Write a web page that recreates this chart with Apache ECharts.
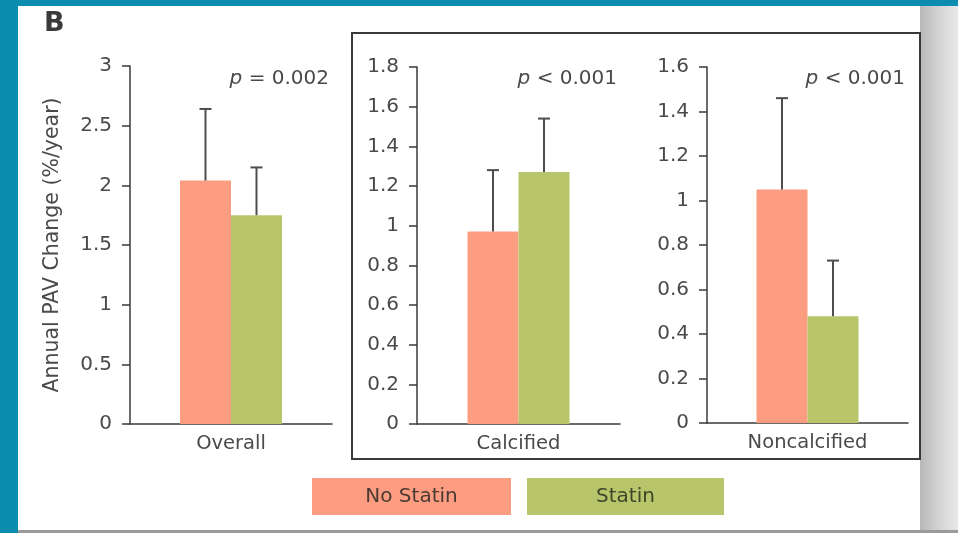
<!DOCTYPE html>
<html><head><meta charset="utf-8">
<script src="https://cdn.jsdelivr.net/npm/echarts@6/dist/echarts.min.js"></script>
<style>html,body{margin:0;padding:0;background:#0b8db0;}#c{width:958px;height:533px;}</style>
</head><body><div id="c"></div>
<script>
const categories = ['Overall', 'Calcified', 'Noncalcified'];
const groups = ['No Statin', 'Statin'];
const noStatin = [2.04, 0.97, 1.05];
const noStatinUpper = [2.64, 1.28, 1.46];
const statin = [1.75, 1.27, 0.48];
const statinUpper = [2.15, 1.54, 0.73];
const yMax = [3, 1.8, 1.6];
const yInterval = [0.5, 0.2, 0.2];
const pText = ['= 0.002', '< 0.001', '< 0.001'];
const yName = 'Annual PAV Change (%/year)';

const COLORS = ['#fc9d81', '#b8c56b'];
const BAR_W = 51;
const FONT = '"DejaVu Sans", "Noto Sans", sans-serif';
const TXT = '#4a4a4a';
const gridBoxes = [
  {left: 130, top: 66, width: 202, height: 358},
  {left: 417, top: 67, width: 203, height: 357},
  {left: 707, top: 67, width: 201, height: 356}
];

const chart = echarts.init(document.getElementById('c'));
const grid = [], xAxis = [], yAxis = [], series = [];
categories.forEach((cat, i) => {
  grid.push(Object.assign({containLabel: false}, gridBoxes[i]));
  xAxis.push({
    type: 'category', gridIndex: i, data: [cat],
    axisLine: {lineStyle: {color: '#3a3a3a', width: 1.5}},
    axisTick: {show: false},
    axisLabel: {fontSize: 19.5, color: TXT, fontFamily: FONT, margin: 10}
  });
  yAxis.push({
    type: 'value', gridIndex: i, min: 0, max: yMax[i], interval: yInterval[i],
    name: i === 0 ? yName : '', nameLocation: 'middle', nameGap: 67,
    nameTextStyle: {fontSize: 20.5, color: TXT, fontFamily: FONT},
    splitLine: {show: false},
    axisLine: {show: true, lineStyle: {color: '#3a3a3a', width: 1.5}},
    axisTick: {show: true, length: 8, lineStyle: {color: '#3a3a3a', width: 1.5}},
    axisLabel: {fontSize: 20, color: TXT, fontFamily: FONT, margin: 18}
  });
  const vals = [noStatin[i], statin[i]];
  const ups = [noStatinUpper[i], statinUpper[i]];
  groups.forEach((g, k) => {
    series.push({
      type: 'bar', name: g, xAxisIndex: i, yAxisIndex: i,
      data: [vals[k]], barWidth: BAR_W, barGap: '0%',
      itemStyle: {color: COLORS[k]}, z: 2, silent: true
    });
  });
  groups.forEach((g, k) => {
    series.push({
      type: 'custom', xAxisIndex: i, yAxisIndex: i, z: 3, silent: true,
      data: [[0, vals[k], ups[k]]],
      renderItem: (params, api) => {
        const base = api.coord([0, api.value(1)]);
        const top = api.coord([0, api.value(2)]);
        const x = base[0] + (k === 0 ? -1 : 1) * BAR_W / 2;
        const st = {stroke: '#4d4d4d', lineWidth: 2};
        return {type: 'group', children: [
          {type: 'line', shape: {x1: x, y1: base[1], x2: x, y2: top[1]}, style: st},
          {type: 'line', shape: {x1: x - 6, y1: top[1], x2: x + 6, y2: top[1]}, style: st}
        ]};
      }
    });
  });
});

const graphic = [
  {type: 'rect', shape: {x: 18, y: 6, width: 940, height: 524}, style: {fill: '#ffffff'}, z: -10},
  {type: 'rect', shape: {x: 920, y: 6, width: 38, height: 524},
   style: {fill: new echarts.graphic.LinearGradient(0, 0, 1, 0, [
     {offset: 0, color: '#b8b8b8'}, {offset: 0.5, color: '#d4d4d4'}, {offset: 1, color: '#e8e8e8'}])}, z: -9},
  {type: 'rect', shape: {x: 18, y: 530, width: 940, height: 3}, style: {fill: '#9a9a9a'}, z: -9},
  {type: 'rect', shape: {x: 352, y: 33, width: 568, height: 426}, style: {fill: 'none', stroke: '#3a3a3a', lineWidth: 2}, z: 1},
  {type: 'text', x: 44, y: 24, style: {text: 'B', fontSize: 27, fontWeight: 'bold', fill: '#3a3a3a', fontFamily: FONT, verticalAlign: 'middle', align: 'left'}}
];
const pRight = [329, 617, 905];
pText.forEach((t, i) => {
  graphic.push({type: 'text', x: pRight[i], y: 79,
    style: {text: '{i|p} ' + t, align: 'right', verticalAlign: 'middle', fontSize: 20, fill: TXT, fontFamily: FONT,
      rich: {i: {fontStyle: 'italic', fontSize: 20, fill: TXT, fontFamily: FONT}}}});
});
const legendBoxes = [{x: 312, w: 199}, {x: 527, w: 197}];
groups.forEach((g, k) => {
  graphic.push({type: 'rect', shape: {x: legendBoxes[k].x, y: 478, width: legendBoxes[k].w, height: 37}, style: {fill: COLORS[k]}});
  graphic.push({type: 'text', x: legendBoxes[k].x + legendBoxes[k].w / 2, y: 497,
    style: {text: g, align: 'center', verticalAlign: 'middle', fontSize: 20, fill: k === 0 ? '#4a3a34' : '#3c4528', fontFamily: FONT}});
});

chart.setOption({
  backgroundColor: 'transparent',
  animation: false,
  grid, xAxis, yAxis, series, graphic
});
</script></body></html>
